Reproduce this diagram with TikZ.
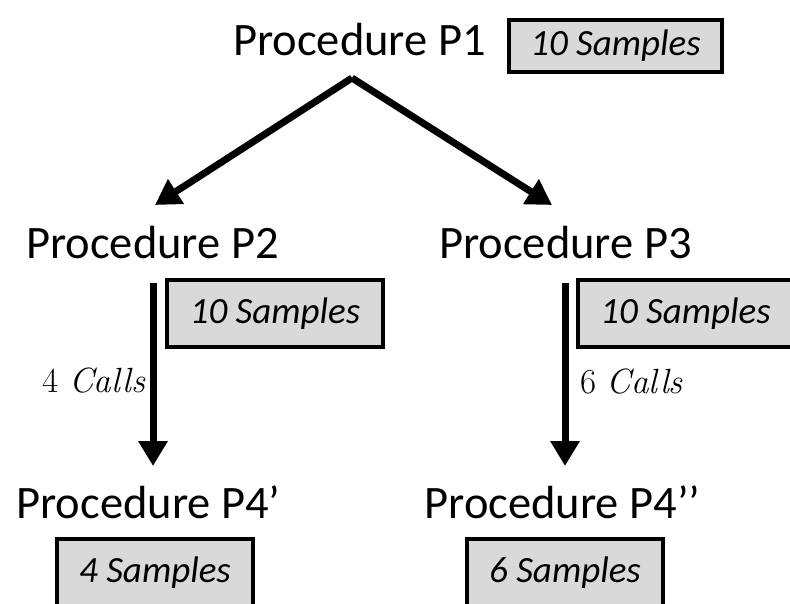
\documentclass[tikz,border=0pt]{standalone}
\usepackage{fontspec}
\setmainfont{Carlito}
\newfontfamily\callfont{Latin Modern Roman}
\usetikzlibrary{arrows.meta}
\definecolor{boxgray}{HTML}{D9D9D9}
\tikzset{
  proc/.style={font=\fontsize{46.5}{50}\selectfont, inner sep=0pt, anchor=base},
  sbox/.style={draw, line width=3.5pt, fill=boxgray, inner sep=0pt,
    font=\fontsize{37}{40}\selectfont\itshape},
  bigarrow/.style={line width=7pt, -{Triangle[length=25pt,width=28pt]}},
  calls/.style={font=\callfont\fontsize{35}{38}\selectfont, inner sep=0pt}
}
\begin{document}
\begin{tikzpicture}[x=1pt,y=-1pt]
\clip (0,0) rectangle (790,603);
\fill[white] (0,0) rectangle (790,603);
% procedure titles
\node[proc] (p1) at (359.5,55) {Procedure P1};
\node[proc] (p2) at (152.5,258) {Procedure P2};
\node[proc] (p3) at (565.5,258) {Procedure P3};
\node[proc] (p4a) at (148.5,518) {Procedure P4’};
\node[proc] (p4b) at (562.5,518) {Procedure P4’’};
% sample boxes
\node[sbox, minimum width=213pt, minimum height=52pt] (s1) at (615.5,46) {10 Samples};
\node[sbox, minimum width=216pt, minimum height=67pt] (s2) at (275,313.5) {10 Samples};
\node[sbox, minimum width=215pt, minimum height=67pt] (s3) at (685.5,313.5) {10 Samples};
\node[sbox, minimum width=196pt, minimum height=67pt] (s4) at (155,572.5) {4 Samples};
\node[sbox, minimum width=196pt, minimum height=67pt] (s5) at (565,572.5) {6 Samples};
% arrow end points
\coordinate (apex) at (352,78);
\coordinate (tl) at (155,205);
\coordinate (tr) at (552,205);
\coordinate (a2s) at (153,283);
\coordinate (a2e) at (153,466);
\coordinate (a3s) at (565,283);
\coordinate (a3e) at (565,466);
\draw[bigarrow, line join=miter] (apex) -- (tl);
\draw[bigarrow, line join=miter] (apex) -- (tr);
\draw[bigarrow] (a2s) -- (a2e);
\draw[bigarrow] (a3s) -- (a3e);
% call labels
\node[calls, anchor=east] (c4) at (146,381) {4 \textit{Calls}};
\node[calls, anchor=west] (c6) at (580,382) {6 \textit{Calls}};
\end{tikzpicture}
\end{document}
